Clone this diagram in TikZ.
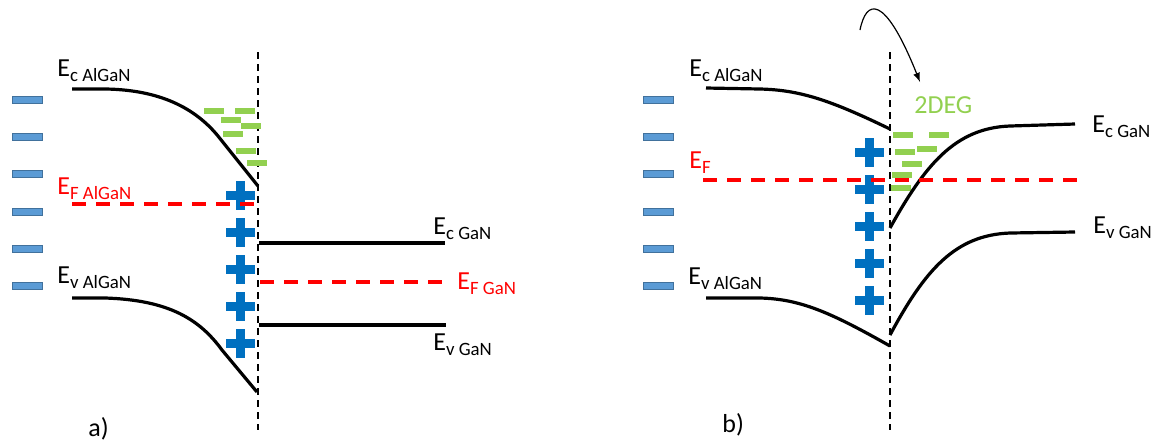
\documentclass[tikz,border=0pt]{standalone}
\usepackage{fontspec}
\setmainfont{Carlito}
\definecolor{donor}{HTML}{5B9BD5}
\definecolor{donorrim}{HTML}{41719C}
\definecolor{egas}{HTML}{92D050}
\definecolor{plusblue}{HTML}{0070C0}
\newcommand{\bsub}[1]{\raisebox{-2.5pt}{\fontsize{9.4}{9.4}\selectfont #1}}
\begin{document}
\begin{tikzpicture}[x=0.5pt,y=-0.5pt]
  \tikzset{ lvl/.style={line width=1.6pt},
    fermi/.style={red,line width=1.7pt,dash pattern=on 7pt off 5pt},
    iface/.style={line width=1pt,dash pattern=on 3.5pt off 2.5pt},
    st/.style={rectangle,draw=donorrim,fill=donor,line width=0.5pt,minimum width=15pt,minimum height=3.2pt,inner sep=0pt},
    el/.style={rectangle,fill=egas,minimum width=10pt,minimum height=3pt,inner sep=0pt},
    lab/.style={anchor=base west,inner sep=0pt,font=\fontsize{13}{13}\selectfont},
    plus/.pic={\fill[plusblue] (-14.5,-4.5) rectangle (14.5,4.5);
               \fill[plusblue] (-4.5,-14.5) rectangle (4.5,14.5);},
  }
  \useasboundingbox (0,0) rectangle (1152,441);

  % surface states
  \foreach \y [count=\i] in {100,137,174,212,249,286} {
    \node[st] (sa\i) at (27,\y) {};
    \node[st] (sb\i) at (658,\y) {};
  }

  % a)
  \draw[iface] (258,52) -- (258,430);
  \foreach \y in {195,232,269,306,343} \pic at (240,\y) {plus};
  \foreach \x/\y [count=\i] in {214/111,244.5/110.5,230.5/120,251/126,232.5/134,246/151,256.5/163}
    \node[el] (ea\i) at (\x,\y) {};
  \draw[lvl] (72,89) -- (106,89) .. controls (160,90) and (195,108) .. (218,136) -- (258,186);
  \draw[lvl] (72,298) -- (105,298) .. controls (170,300) and (200,320) .. (222,350) -- (257,392);
  \draw[fermi] (72,204) -- (258,204);
  \draw[lvl] (259,243) -- (445,243);
  \draw[fermi] (260,282) -- (446,282);
  \draw[lvl] (259,325) -- (446,325);
  \node[lab] (eca) at (57,76) {E\bsub{c AlGaN}};
  \node[lab,red] (efa) at (57,194) {E\bsub{F AlGaN}};
  \node[lab] (eva) at (57,283) {E\bsub{v AlGaN}};
  \node[lab] (ecg) at (433,234) {E\bsub{c GaN}};
  \node[lab,red] (efg) at (457,289) {E\bsub{F GaN}};
  \node[lab] (evg) at (433,350) {E\bsub{v GaN}};
  \node[lab] (ta) at (88,436) {a)};

  % b)
  \draw[iface] (890,52) -- (890,430);
  \foreach \y in {152,189,226,263,300} \pic at (869,\y) {plus};
  \foreach \x/\y [count=\i] in {903/134.5,939/134.5,927/148.5,904.5/151.5,911.5/163.5,902/174.5,901/188}
    \node[el] (eb\i) at (\x,\y) {};
  \draw[lvl] (706,88) -- (760,89) .. controls (800,90) and (830,100) .. (890,129);
  \draw[lvl] (706,298) -- (760,298) .. controls (800,299) and (830,312) .. (890,346);
  \draw[lvl] (890,228) .. controls (925,165) and (955,128) .. (1010,126) -- (1075,124);
  \draw[lvl] (890,335) .. controls (925,270) and (955,235) .. (1010,233) -- (1075,232);
  \draw[fermi] (703,180) -- (1082,180);
  \node[lab] (ecb) at (689,76) {E\bsub{c AlGaN}};
  \node[lab,red] (efb) at (689,168) {E\bsub{F}};
  \node[lab] (evb) at (688,284) {E\bsub{v AlGaN}};
  \node[lab] (ecgb) at (1092,132) {E\bsub{c GaN}};
  \node[lab] (evgb) at (1093,233) {E\bsub{v GaN}};
  \node[lab,egas] (deg) at (914,113) {2DEG};
  \node[lab] (tb) at (722,432) {b)};
  \coordinate (s) at (860,30);
  \coordinate (t) at (920,82);
  \draw[-latex,line width=0.6pt] (s) .. controls (866,0) and (884,-8) .. (t);
\end{tikzpicture}
\end{document}
